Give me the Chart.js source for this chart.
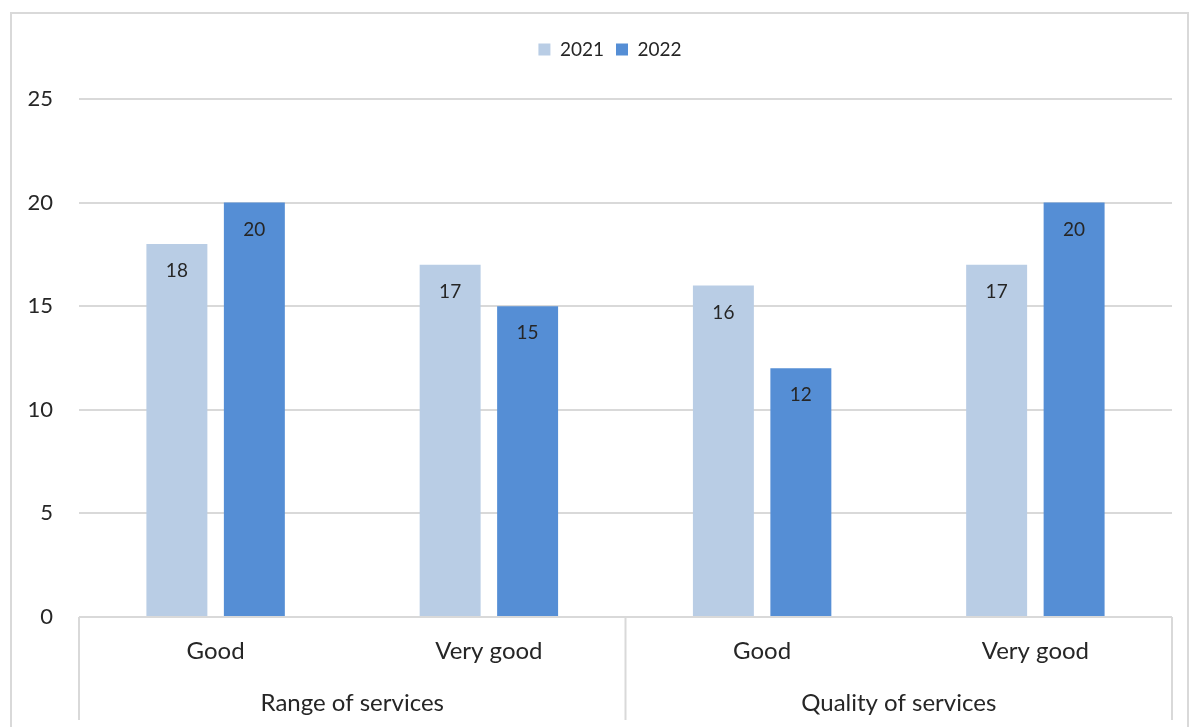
<!DOCTYPE html>
<html>
<head>
<meta charset="utf-8">
<script src="https://cdn.jsdelivr.net/npm/chart.js@4"></script>
<style>
  html, body { margin: 0; padding: 0; background: #ffffff; }
  #wrap { width: 1191px; height: 727px; position: relative; }
</style>
</head>
<body>
<div id="wrap"><canvas id="chart" width="1191" height="727"></canvas></div>
<script>
// Chart data
const categories = ["Good", "Very good", "Good", "Very good"];
const groups = ["Range of services", "Quality of services"];
const values2021 = [18, 17, 16, 17];
const values2022 = [20, 15, 12, 20];
const seriesNames = ["2021", "2022"];
const yTicks = [0, 5, 10, 15, 20, 25];

const FONT = "Lato, 'Open Sans', sans-serif";
const TEXT = "#262626";
const LINE = "#d9d9d9";

// Extra space under the legend, and nudge it to the right like the original
const legendSpacer = {
  id: "legendSpacer",
  beforeLayout(chart) {
    const lg = chart.legend;
    if (lg && !lg._spaced) {
      const fit = lg.fit;
      lg.fit = function () {
        fit.call(this);
        this.height += 30;
      };
      lg._spaced = true;
    }
  },
  afterLayout(chart) {
    const lg = chart.legend;
    if (lg) {
      lg.left += 24;
      lg.right += 24;
    }
  },
};

// Frame, axis line, group separators and group labels
const groupAxisPlugin = {
  id: "groupAxis",
  beforeDraw(chart) {
    const ctx = chart.ctx;
    ctx.save();
    ctx.strokeStyle = LINE;
    ctx.lineWidth = 2;
    ctx.strokeRect(11, 13, 1177, 730);
    ctx.restore();
  },
  afterDraw(chart) {
    const ctx = chart.ctx;
    const x = chart.scales.x;
    const area = chart.chartArea;
    const bottom = 720;
    ctx.save();
    ctx.strokeStyle = LINE;
    ctx.lineWidth = 2;
    ctx.beginPath();
    ctx.moveTo(area.left, area.bottom);
    ctx.lineTo(area.right, area.bottom);
    const mid = (x.getPixelForValue(1) + x.getPixelForValue(2)) / 2;
    [area.left, mid, area.right].forEach((px) => {
      ctx.moveTo(px, area.bottom);
      ctx.lineTo(px, bottom);
    });
    ctx.stroke();

    ctx.fillStyle = TEXT;
    ctx.font = "24px " + FONT;
    ctx.textAlign = "center";
    ctx.textBaseline = "middle";
    groups.forEach((g, i) => {
      const cx = (x.getPixelForValue(i * 2) + x.getPixelForValue(i * 2 + 1)) / 2;
      ctx.fillText(g, cx, 703);
    });
    ctx.restore();
  },
};

// Value labels inside the top of each bar
const barLabelPlugin = {
  id: "barLabels",
  afterDatasetsDraw(chart) {
    const ctx = chart.ctx;
    ctx.save();
    ctx.fillStyle = TEXT;
    ctx.font = "19px " + FONT;
    ctx.textAlign = "center";
    ctx.textBaseline = "middle";
    chart.data.datasets.forEach((ds, i) => {
      chart.getDatasetMeta(i).data.forEach((bar, j) => {
        ctx.fillText(String(ds.data[j]), bar.x, bar.y + 27);
      });
    });
    ctx.restore();
  },
};

new Chart(document.getElementById("chart"), {
  type: "bar",
  data: {
    labels: categories,
    datasets: [
      {
        label: seriesNames[0],
        data: values2021,
        backgroundColor: "#b9cde5",
        categoryPercentage: 0.567,
        barPercentage: 0.787,
      },
      {
        label: seriesNames[1],
        data: values2022,
        backgroundColor: "#558ed5",
        categoryPercentage: 0.567,
        barPercentage: 0.787,
      },
    ],
  },
  options: {
    responsive: false,
    animation: false,
    devicePixelRatio: 1,
    layout: { padding: { top: 28, left: 0, right: 19, bottom: 0 } },
    plugins: {
      legend: {
        position: "top",
        labels: {
          boxWidth: 12,
          boxHeight: 12,
          padding: 12,
          color: TEXT,
          font: { family: FONT, size: 19 },
        },
      },
      tooltip: { enabled: false },
    },
    scales: {
      x: {
        grid: { display: false },
        border: { display: false },
        ticks: {
          color: TEXT,
          font: { family: FONT, size: 24 },
          padding: 12,
          maxRotation: 0,
        },
        afterFit: (s) => { s.height = 110; },
      },
      y: {
        min: 0,
        max: 25,
        afterBuildTicks: (s) => { s.ticks = yTicks.map((v) => ({ value: v })); },
        grid: { color: LINE, lineWidth: 2, drawTicks: false },
        border: { display: false },
        ticks: {
          color: TEXT,
          font: { family: FONT, size: 22 },
          padding: 26,
        },
        afterFit: (s) => { s.width = 79; },
      },
    },
  },
  plugins: [legendSpacer, groupAxisPlugin, barLabelPlugin],
});
</script>
</body>
</html>
